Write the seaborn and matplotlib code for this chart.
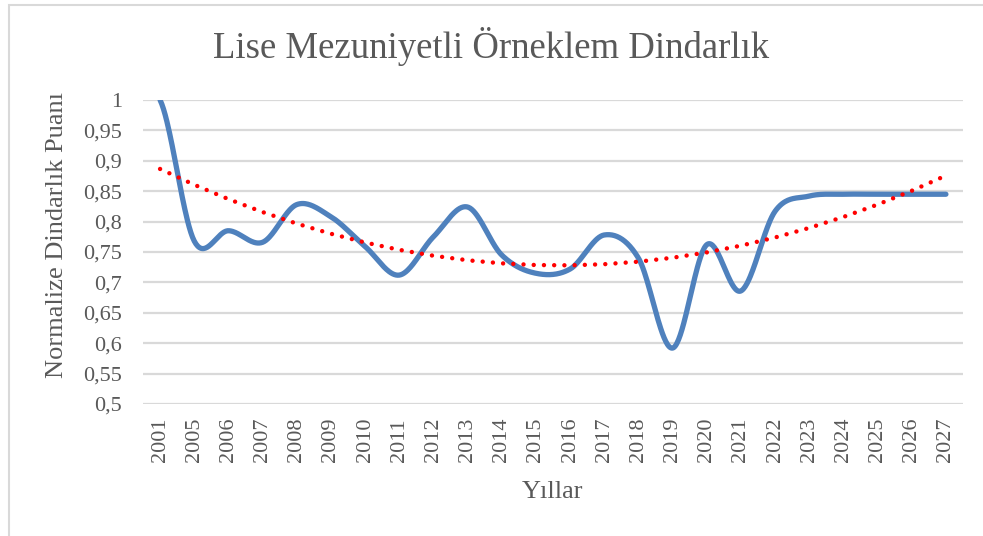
import numpy as np
import pandas as pd
import matplotlib
matplotlib.use("Agg")
import matplotlib.pyplot as plt
from matplotlib.patches import Rectangle
import seaborn as sns

# Chart data
years = ["2001", "2005", "2006", "2007", "2008", "2009", "2010", "2011",
         "2012", "2013", "2014", "2015", "2016", "2017", "2018", "2019",
         "2020", "2021", "2022", "2023", "2024", "2025", "2026", "2027"]
scores = [1.000, 0.768, 0.785, 0.766, 0.828, 0.808, 0.759, 0.712,
          0.775, 0.824, 0.745, 0.715, 0.722, 0.778, 0.740, 0.592,
          0.762, 0.686, 0.817, 0.842, 0.845, 0.845, 0.845, 0.845]
y_ticks = [0.5, 0.55, 0.6, 0.65, 0.7, 0.75, 0.8, 0.85, 0.9, 0.95, 1.0]
y_tick_labels = ["0,5", "0,55", "0,6", "0,65", "0,7", "0,75", "0,8",
                 "0,85", "0,9", "0,95", "1"]

idx = np.arange(len(years), dtype=float)
vals = np.array(scores)


def smooth_curve(x, y, n=40):
    """Cardinal (Catmull-Rom) spline through the points, like a smoothed line."""
    m = np.zeros_like(y)
    m[1:-1] = (y[2:] - y[:-2]) / 2.0
    m[0] = (y[1] - y[0]) / 2.0
    m[-1] = (y[-1] - y[-2]) / 2.0
    xs, ys = [], []
    for i in range(len(x) - 1):
        t = np.linspace(0, 1, n, endpoint=False)
        h00 = 2 * t**3 - 3 * t**2 + 1
        h10 = t**3 - 2 * t**2 + t
        h01 = -2 * t**3 + 3 * t**2
        h11 = t**3 - t**2
        xs.append(x[i] + t * (x[i + 1] - x[i]))
        ys.append(h00 * y[i] + h10 * m[i] + h01 * y[i + 1] + h11 * m[i + 1])
    xs.append([x[-1]])
    ys.append([y[-1]])
    return np.concatenate(xs), np.concatenate(ys)


sx, sy = smooth_curve(idx, vals)
smooth_df = pd.DataFrame({"pos": sx, "score": sy})

# Second-order polynomial trend line
coef = np.polyfit(idx + 1, vals, 2)
trend_df = pd.DataFrame({"pos": idx, "score": np.polyval(coef, idx + 1)})

sns.set_theme(style="white")
plt.rcParams["font.family"] = ["Liberation Serif", "DejaVu Serif"]

fig = plt.figure(figsize=(9.83, 5.36), dpi=100)
ax = fig.add_axes([143 / 983, 1 - 404 / 536, 820 / 983, 304 / 536])

gray_text = "#595959"
grid_col = "#d9d9d9"

for yt in y_ticks:
    ax.axhline(yt, color=grid_col, lw=1.6, zorder=0)

sns.lineplot(data=smooth_df, x="pos", y="score", ax=ax, color="#4f81bd",
             lw=3.8, sort=False, zorder=3, solid_capstyle="round")
sns.lineplot(data=trend_df, x="pos", y="score", ax=ax, color="#ff0000",
             lw=3.2, zorder=4, dashes=False, linestyle=(0, (0.001, 2.3)),
             dash_capstyle="round")

ax.set_xlim(-0.5, len(years) - 0.5)
ax.set_ylim(0.5, 1.0)
ax.set_xticks(idx)
ax.set_xticklabels(years, rotation=90, fontsize=16, color=gray_text)
ax.set_yticks(y_ticks)
ax.set_yticklabels(y_tick_labels, fontsize=16, color=gray_text)
ax.tick_params(axis="x", length=0, pad=10)
ax.tick_params(axis="y", length=0, pad=15)
for s in ax.spines.values():
    s.set_visible(False)

ax.set_xlabel("Yıllar", fontsize=19, color=gray_text)
ax.set_ylabel("Normalize Dindarlık Puanı", fontsize=19, color=gray_text)
ax.xaxis.set_label_coords((553 - 143) / 820, (404 - 492) / 304)
ax.yaxis.set_label_coords((57 - 143) / 820, (404 - 235) / 304)
ax.xaxis.label.set_va("center")
ax.yaxis.label.set_va("center")

fig.text(0.5, 1 - 47 / 536, "Lise Mezuniyetli Örneklem Dindarlık",
         ha="center", va="center", fontsize=26.5, color=gray_text)

# Chart area frame
fig.patches.append(Rectangle((8.5 / 983, -0.2), 1.2, 1.2 - 4.5 / 536,
                             transform=fig.transFigure, fill=False,
                             edgecolor=grid_col, lw=1.5))

fig.savefig("out.png", dpi=100)
